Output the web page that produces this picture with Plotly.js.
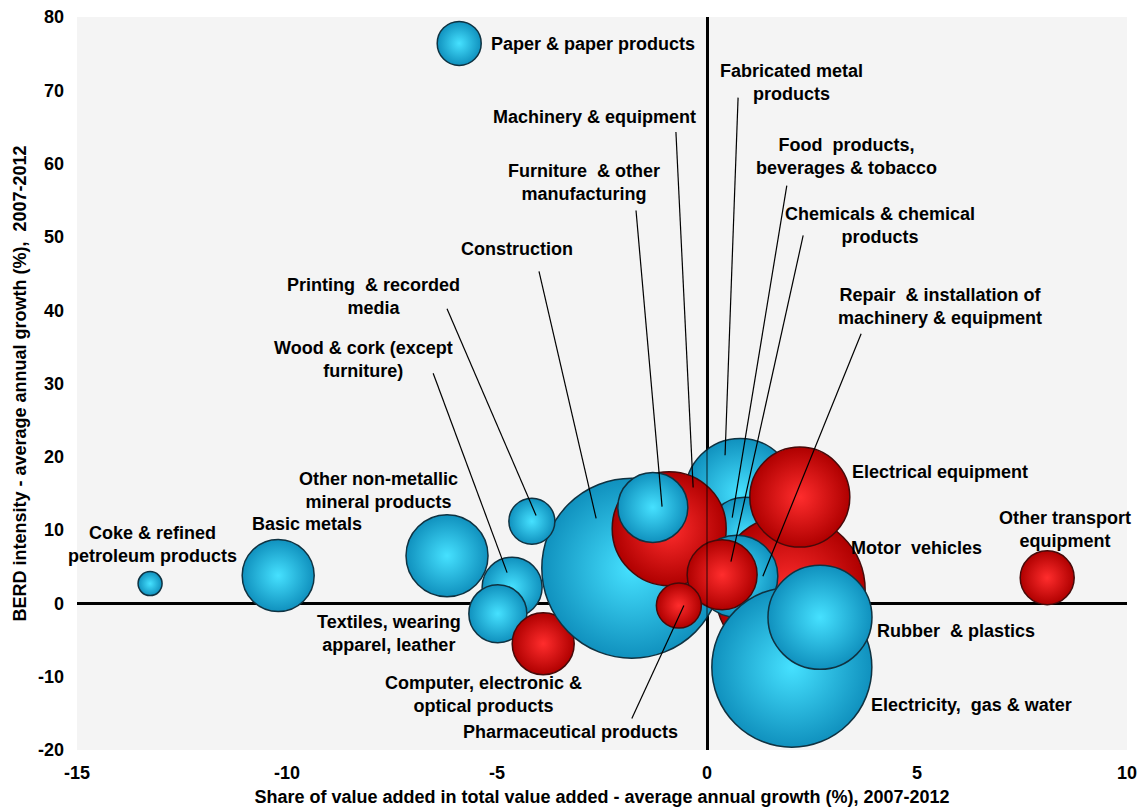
<!DOCTYPE html>
<html>
<head>
<meta charset="utf-8">
<script src="https://cdn.plot.ly/plotly-3.0.1.min.js"></script>
<style>
  html, body { margin: 0; padding: 0; background: #fff; }
  #chart { width: 1141px; height: 811px; }
</style>
</head>
<body>
<div id="chart"></div>
<script>
// sectors in drawing order (back to front)
const sectors = [
    'Coke & refined petroleum products',
    'Basic metals',
    'Other non-metallic mineral products',
    'Paper & paper products',
    'Wood & cork (except furniture)',
    'Textiles, wearing apparel, leather',
    'Computer, electronic & optical products',
    'Construction',
    'Printing & recorded media',
    'Fabricated metal products',
    'Food products, beverages & tobacco',
    'Machinery & equipment',
    'Furniture & other manufacturing',
    'Motor vehicles',
    'Repair & installation of machinery & equipment',
    'Chemicals & chemical products',
    'Pharmaceutical products',
    'Electricity, gas & water',
    'Rubber & plastics',
    'Electrical equipment',
    'Other transport equipment'
];
// share of value added, avg annual growth (%)
const vaGrowth = [-13.26, -10.21, -6.19, -5.90, -4.64, -4.98, -3.90, -1.79, -4.17, 0.79, 0.90,
    -0.90, -1.29, 1.98, 0.71, 0.36, -0.67, 2.02, 2.69, 2.21, 8.10];
// BERD intensity, avg annual growth (%)
const berdGrowth = [2.7, 3.8, 6.5, 76.4, 2.2, -1.4, -5.5, 4.8, 11.2, 15.0, 9.3,
    10.2, 13.1, 1.8, 3.7, 3.9, -0.3, -8.7, -1.9, 14.5, 3.5];
// bubble size
const bubbleSize = [24, 72, 82, 44, 60, 58, 62, 180, 46, 110, 76,
    114, 70, 150, 82, 70, 45, 160, 104, 100, 54];
// 1 = red group, 0 = blue group
const highTech = [0, 0, 0, 0, 0, 0, 1, 0, 0, 0, 0,
    1, 0, 1, 0, 1, 1, 0, 0, 1, 1];

const xTicks = [-15, -10, -5, 0, 5, 10];
const yTicks = [-20, -10, 0, 10, 20, 30, 40, 50, 60, 70, 80];

// label text, position and optional leader line [x0, y0, x1, y1]
const labels = [
    {t: 'Paper & paper products', x: -5.19, y: 76.3, anchor: 'left'},
    {t: 'Fabricated metal<br>products', x: 2.0, y: 71.1, line: [0.74, 69.0, 0.43, 20.2]},
    {t: 'Machinery & equipment', x: -2.69, y: 66.3, line: [-0.74, 64.3, -0.33, 15.8]},
    {t: 'Food  products,<br>beverages & tobacco', x: 3.31, y: 61.0, line: [1.90, 57.0, 0.60, 11.7]},
    {t: 'Furniture  & other<br>manufacturing', x: -2.93, y: 57.4, line: [-1.69, 53.6, -1.07, 13.2]},
    {t: 'Chemicals & chemical<br>products', x: 4.12, y: 51.6, line: [2.29, 50.2, 0.57, 5.7]},
    {t: 'Construction', x: -4.52, y: 48.4, line: [-4.0, 45.3, -2.64, 11.6]},
    {t: 'Printing  & recorded<br>media', x: -7.95, y: 41.9, line: [-6.19, 40.2, -4.07, 12.0]},
    {t: 'Repair  & installation of<br>machinery & equipment', x: 5.55, y: 40.5, line: [3.67, 36.8, 1.33, 3.7]},
    {t: 'Wood & cork (except<br>furniture)', x: -8.17, y: 33.3, line: [-6.52, 31.4, -4.76, 4.2]},
    {t: 'Other non-metallic<br>mineral products', x: -7.83, y: 15.4},
    {t: 'Basic metals', x: -9.52, y: 10.8},
    {t: 'Coke & refined<br>petroleum products', x: -13.21, y: 8.0},
    {t: 'Textiles, wearing<br>apparel, leather', x: -7.57, y: -4.1},
    {t: 'Computer, electronic &<br>optical products', x: -5.31, y: -12.4},
    {t: 'Pharmaceutical products', x: -3.24, y: -17.6, line: [-1.79, -15.7, -0.55, -0.3]},
    {t: 'Electrical equipment', x: 5.55, y: 17.9},
    {t: 'Other transport<br>equipment', x: 8.52, y: 10.1},
    {t: 'Motor  vehicles', x: 4.98, y: 7.5},
    {t: 'Rubber  & plastics', x: 5.93, y: -3.7},
    {t: 'Electricity,  gas & water', x: 6.29, y: -13.9}
];

const FONT = 'Liberation Sans, Arial, sans-serif';

const trace = {
    x: vaGrowth,
    y: berdGrowth,
    text: sectors,
    mode: 'markers',
    type: 'scatter',
    hoverinfo: 'text',
    cliponaxis: false,
    marker: {
        size: bubbleSize,
        sizemode: 'diameter',
        sizeref: 1,
        opacity: 1,
        color: highTech.map(h => h ? 'rgb(175,0,0)' : 'rgb(16,145,190)'),
        gradient: {
            type: 'radial',
            color: highTech.map(h => h ? 'rgb(255,45,45)' : 'rgb(70,225,255)')
        },
        line: {
            width: 1.5,
            color: highTech.map(h => h ? 'rgb(70,10,10)' : 'rgb(15,50,65)')
        }
    }
};

const annotations = labels.map(l => ({
    text: '<b>' + l.t + '</b>',
    x: l.x, y: l.y, xref: 'x', yref: 'y',
    xanchor: l.anchor || 'center',
    yanchor: 'middle',
    showarrow: false,
    font: {family: FONT, size: 18, color: '#000'}
}));

const shapes = labels.filter(l => l.line).map(l => ({
    type: 'line', xref: 'x', yref: 'y', layer: 'above',
    x0: l.line[0], y0: l.line[1], x1: l.line[2], y1: l.line[3],
    line: {color: '#000', width: 1.2}
}));
// thin axis line showing through the bubbles
shapes.push({
    type: 'line', xref: 'x', yref: 'paper', layer: 'above',
    x0: 0, x1: 0, y0: 0, y1: 1,
    line: {color: '#000', width: 0.8}
});

const layout = {
    width: 1141,
    height: 811,
    margin: {l: 77, r: 14, t: 17, b: 61},
    paper_bgcolor: '#ffffff',
    plot_bgcolor: '#f4f4f4',
    showlegend: false,
    font: {family: FONT, color: '#000'},
    xaxis: {
        range: [-15, 10],
        tickvals: xTicks,
        ticktext: xTicks.map(v => '<b>' + v + '</b>'),
        ticks: '',
        ticklabelstandoff: 10,
        showgrid: false,
        showline: false,
        zeroline: true,
        zerolinecolor: '#000',
        zerolinewidth: 3,
        tickfont: {family: FONT, size: 18, color: '#000'},
        title: {
            text: '<b>Share of value added in total value added - average annual growth (%), 2007-2012</b>',
            font: {family: FONT, size: 18, color: '#000'},
            standoff: 8
        }
    },
    yaxis: {
        range: [-20, 80],
        tickvals: yTicks,
        ticktext: yTicks.map(v => '<b>' + v + '</b>'),
        ticks: '',
        ticklabelstandoff: 12,
        showgrid: false,
        showline: false,
        zeroline: true,
        zerolinecolor: '#000',
        zerolinewidth: 3,
        tickfont: {family: FONT, size: 18, color: '#000'},
        title: {
            text: '<b>BERD intensity - average annual growth (%),  2007-2012</b>',
            font: {family: FONT, size: 18, color: '#000'},
            standoff: 6
        }
    },
    annotations: annotations,
    shapes: shapes
};

Plotly.newPlot('chart', [trace], layout, {displayModeBar: false, staticPlot: true});
</script>
</body>
</html>
